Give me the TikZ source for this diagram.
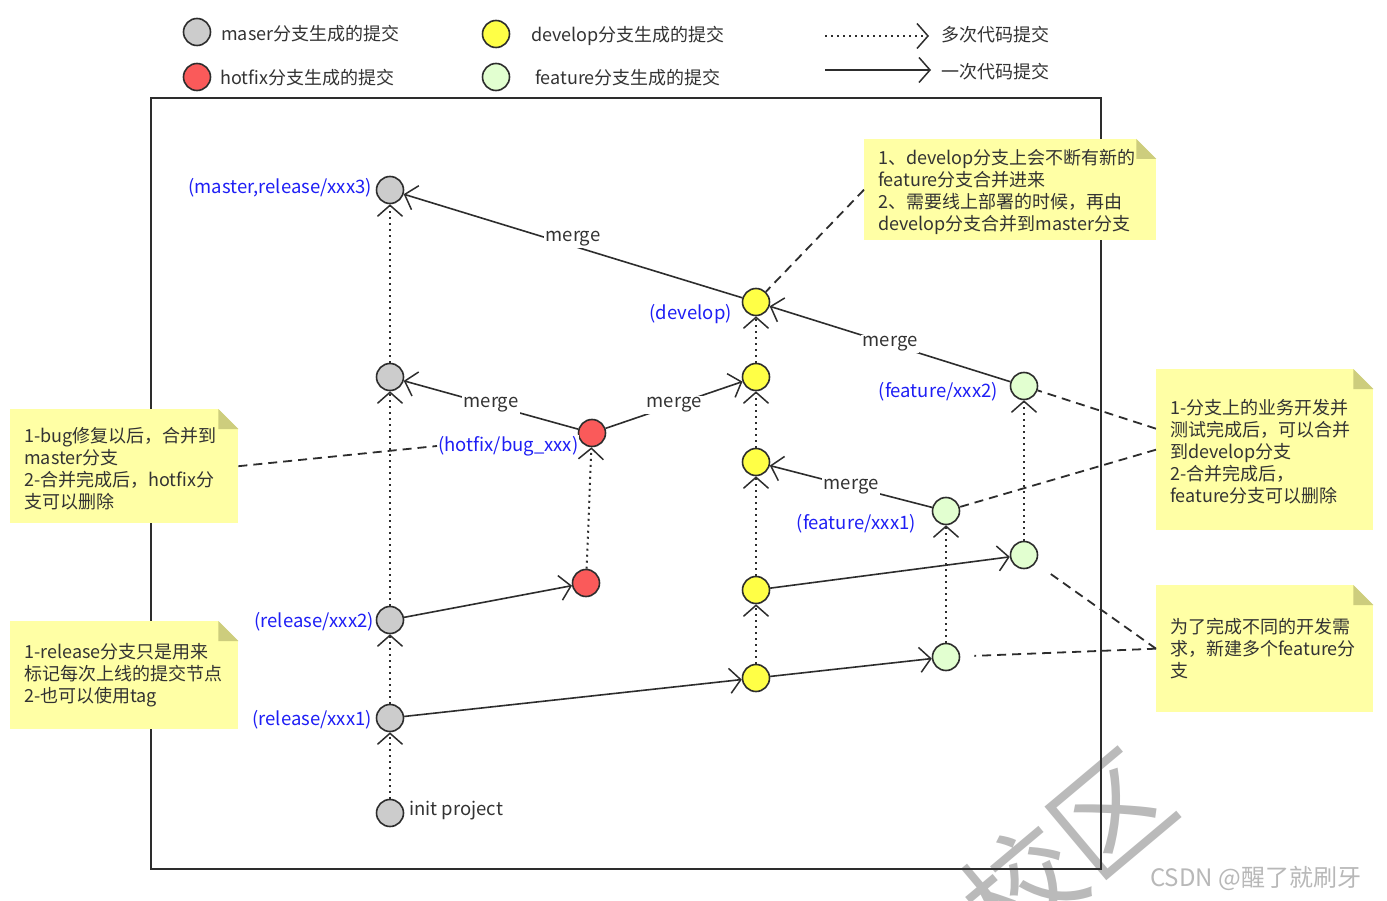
\documentclass[tikz,border=0pt]{standalone}
\usepackage{fontspec}
\setmainfont{Noto Sans CJK SC}
\usetikzlibrary{arrows.meta}
\definecolor{txt}{RGB}{51,51,51}
\definecolor{linec}{RGB}{45,45,45}
\definecolor{cgray}{RGB}{204,204,204}
\definecolor{cred}{RGB}{250,90,90}
\definecolor{cyellow}{RGB}{255,255,70}
\definecolor{cgreen}{RGB}{226,255,208}
\definecolor{noteyel}{RGB}{255,255,165}
\definecolor{notefold}{RGB}{205,205,125}
\definecolor{lblue}{RGB}{30,30,245}
\begin{document}
\begin{tikzpicture}[x=1pt,y=-1pt,
  font=\fontsize{18}{22}\selectfont, text=txt,
  >={Straight Barb[length=11pt,width=25pt,line width=1.5pt]},
  commit/.style={circle,draw=linec,line width=1.6pt,minimum size=27pt,inner sep=0pt},
  cg/.style={commit,fill=cgray}, cr/.style={commit,fill=cred},
  cy/.style={commit,fill=cyellow}, cf/.style={commit,fill=cgreen},
  solidedge/.style={draw=linec,line width=1.6pt,->},
  dotedge/.style={draw=linec,line width=2pt,dash pattern=on 2pt off 4pt,->},
  notelink/.style={draw=linec,line width=1.8pt,dash pattern=on 9pt off 6pt},
  mlabel/.style={fill=white,inner sep=1.5pt,text=txt,font=\fontsize{18.5}{20}\selectfont},
  blab/.style={text=lblue,inner sep=1pt,font=\fontsize{18.5}{20}\selectfont},
  notebg/.style={fill=noteyel,draw=none,inner sep=0pt,anchor=north west},
  notetext/.style={align=left,anchor=west,inner sep=0pt}
]
\useasboundingbox (0,0) rectangle (1387,901);
\fill[white] (0,0) rectangle (1387,901);

% watermark
\begin{scope}
\clip (0,0) rectangle (1387,901);
\node[rotate=40,text=black!27,font=\fontsize{115}{115}\selectfont] (wm) at (1066,850) {校区};
\end{scope}
\node[anchor=west,text=black!28,font=\fontsize{24}{24}\selectfont,inner sep=0pt] (csdn) at (1150,878) {CSDN @醒了就刷牙};

% legend
\node[cg] (lg1) at (197,32) {};
\node[cr] (lg2) at (197,77) {};
\node[cy] (lg3) at (496,34) {};
\node[cf] (lg4) at (496,77) {};
\node[anchor=west,inner sep=0pt] (lt1) at (221,34) {maser分支生成的提交};
\node[anchor=west,inner sep=0pt] (lt2) at (220,78) {hotfix分支生成的提交};
\node[anchor=west,inner sep=0pt] (lt3) at (531,36) {develop分支生成的提交};
\node[anchor=west,inner sep=0pt] (lt4) at (535,78) {feature分支生成的提交};
\coordinate (la1) at (825,36); \coordinate (la2) at (929,36);
\coordinate (lb1) at (825,70); \coordinate (lb2) at (931,70);
\draw[dotedge] (la1) -- (la2);
\draw[solidedge] (lb1) -- (lb2);
\node[anchor=west,inner sep=0pt] (lt5) at (941,35) {多次代码提交};
\node[anchor=west,inner sep=0pt] (lt6) at (941,72) {一次代码提交};

% frame
\draw[draw=linec,line width=2pt] (151,98) rectangle (1101,869);

% commits
\node[cg] (m3) at (390,190) {};
\node[cg] (m2) at (390,377) {};
\node[cg] (r2) at (390,620) {};
\node[cg] (r1) at (390,718) {};
\node[cg] (init) at (390,813) {};
\node[cr] (hf) at (592,433) {};
\node[cr] (hf0) at (586,583) {};
\node[cy] (d1) at (756,302) {};
\node[cy] (d2) at (756,377) {};
\node[cy] (d3) at (756,462) {};
\node[cy] (d4) at (756,590) {};
\node[cy] (d5) at (756,678) {};
\node[cf] (f2) at (1024,386) {};
\node[cf] (f1) at (946,511) {};
\node[cf] (f2a) at (1024,555) {};
\node[cf] (f1a) at (946,657) {};

% labels
\node[blab,anchor=east] (lm3) at (373,188) {(master,release/xxx3)};
\node[blab,anchor=east] (ld1) at (733,314) {(develop)};
\node[blab,anchor=east] (lf2) at (999,392) {(feature/xxx2)};
\node[blab,anchor=east] (lf1) at (917,524) {(feature/xxx1)};
\node[blab,anchor=east] (lr2) at (375,622) {(release/xxx2)};
\node[blab,anchor=east] (lr1) at (373,720) {(release/xxx1)};
\node[anchor=west,inner sep=1pt,font=\fontsize{18.5}{20}\selectfont] (linit) at (408,811) {init project};

% dotted edges
\draw[dotedge] (init) -- (r1);
\draw[dotedge] (r1) -- (r2);
\draw[dotedge] (r2) -- (m2);
\draw[dotedge] (m2) -- (m3);
\draw[dotedge] (hf0) -- (hf);
\draw[dotedge] (d5) -- (d4);
\draw[dotedge] (d4) -- (d3);
\draw[dotedge] (d3) -- (d2);
\draw[dotedge] (d2) -- (d1);
\draw[dotedge] (f1a) -- (f1);
\draw[dotedge] (f2a) -- (f2);

% solid edges
\draw[solidedge] (r2) -- (hf0);
\draw[solidedge] (r1) -- (d5);
\draw[solidedge] (d5) -- (f1a);
\draw[solidedge] (d4) -- (f2a);
\draw[solidedge] (d1) -- node[mlabel,pos=0.5,yshift=7pt] (mg1) {merge} (m3);
\draw[solidedge] (hf) -- node[mlabel,pos=0.5] (mg2) {merge} (m2);
\draw[solidedge] (hf) -- node[mlabel,pos=0.5] (mg3) {merge} (d2);
\draw[solidedge] (f1) -- node[mlabel,pos=0.5] (mg4) {merge} (d3);
\draw[solidedge] (f2) -- node[mlabel,pos=0.5] (mg5) {merge} (d1);

% notes
\node[notebg,minimum width=292pt,minimum height=101pt] (nA) at (864,139) {};
\node[notebg,minimum width=217pt,minimum height=161pt] (nB) at (1156,369) {};
\node[notebg,minimum width=217pt,minimum height=127pt] (nC) at (1156,585) {};
\node[notebg,minimum width=228pt,minimum height=114pt] (nD) at (10,409) {};
\node[notebg,minimum width=228pt,minimum height=108pt] (nE) at (10,621) {};
\foreach \n in {nA,nB,nC,nD,nE}{
  \fill[white] ([xshift=-20pt]\n.north east) -- (\n.north east) -- ([yshift=-20pt]\n.north east) -- cycle;
  \fill[notefold] ([xshift=-20pt]\n.north east) -- ([xshift=-20pt,yshift=-20pt]\n.north east) -- ([yshift=-20pt]\n.north east) -- cycle;
}
\node[notetext] (tA) at ([xshift=14pt,yshift=-2pt]nA.west) {1、develop分支上会不断有新的\\feature分支合并进来\\2、需要线上部署的时候，再由\\develop分支合并到master分支};
\node[notetext] (tB) at ([xshift=14pt,yshift=-2pt]nB.west) {1-分支上的业务开发并\\测试完成后，可以合并\\到develop分支\\2-合并完成后，\\feature分支可以删除};
\node[notetext] (tC) at ([xshift=14pt]nC.west) {为了完成不同的开发需\\求，新建多个feature分\\支};
\node[notetext] (tD) at ([xshift=14pt,yshift=-2pt]nD.west) {1-bug修复以后，合并到\\master分支\\2-合并完成后，hotfix分\\支可以删除};
\node[notetext] (tE) at ([xshift=14pt]nE.west) {1-release分支只是用来\\标记每次上线的提交节点\\2-也可以使用tag};

% note links
\draw[notelink] (nA.west) -- (d1);
\draw[notelink] ([yshift=21pt]nB.west) -- (f2);
\draw[notelink] (nB.west) -- (f1);
\draw[notelink,shorten >=14pt] (nC.west) -- (f2a);
\draw[notelink,shorten >=14pt] (nC.west) -- (f1a);
\node[blab,anchor=west,fill=white] (lhf) at (437,446) {(hotfix/bug\_xxx)};
\draw[notelink] (nD.east) -- (lhf.west);
\end{tikzpicture}
\end{document}
